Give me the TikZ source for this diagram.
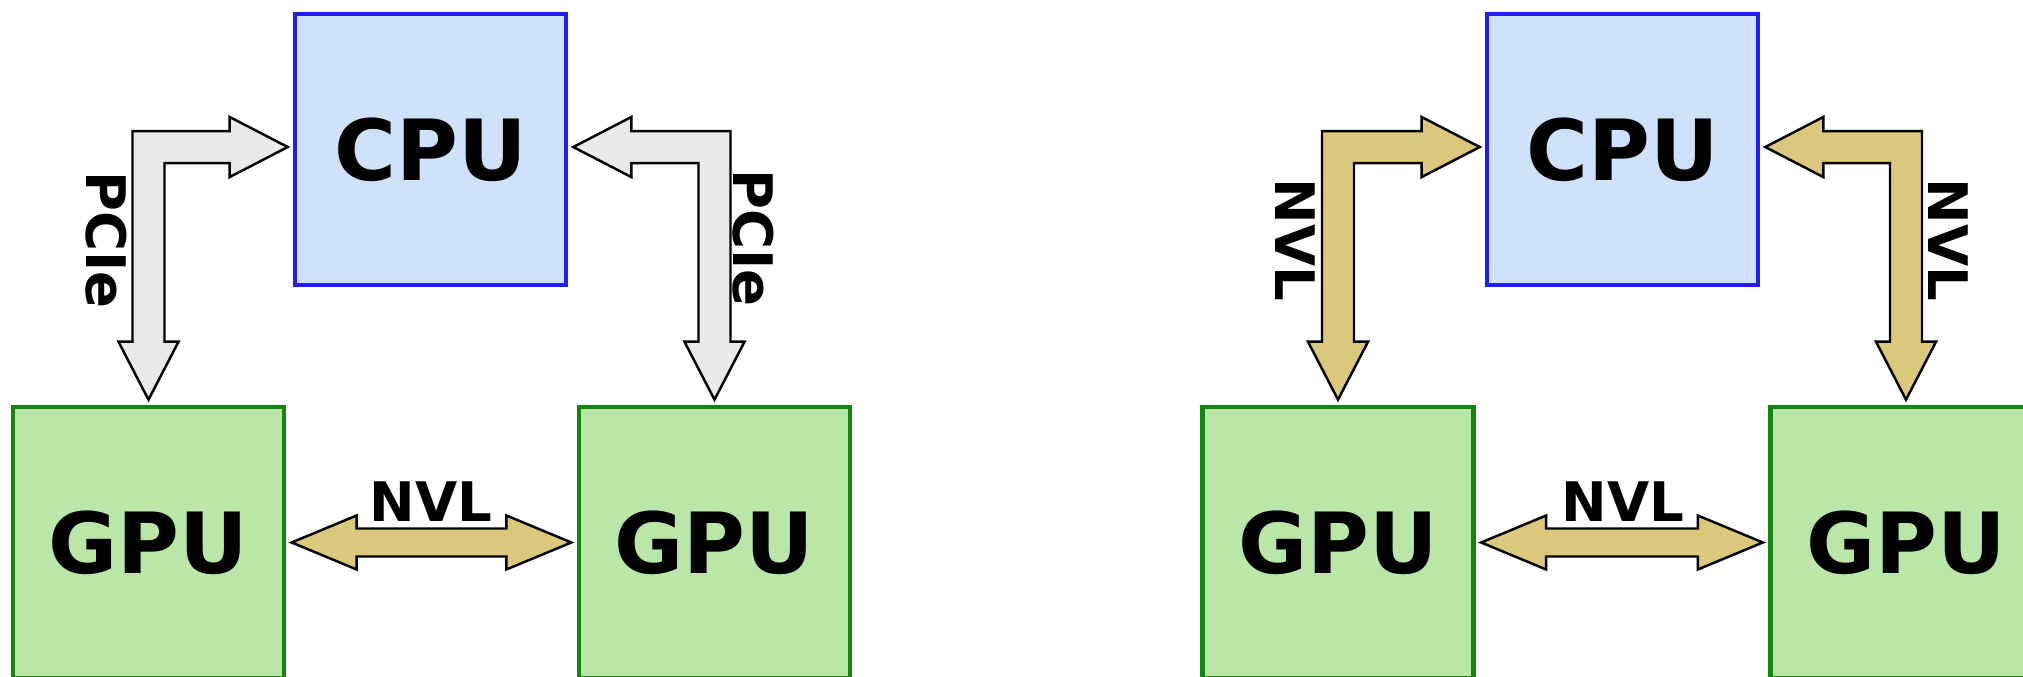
\documentclass[tikz,border=0pt]{standalone}
\usepackage{fontspec}
\setmainfont{DejaVu Sans}
\usetikzlibrary{calc}
\definecolor{cpufill}{RGB}{207,226,252}
\definecolor{cpuline}{RGB}{30,30,245}
\definecolor{gpufill}{RGB}{186,230,168}
\definecolor{gpuline}{RGB}{16,136,16}
\definecolor{pciefill}{RGB}{233,233,233}
\definecolor{nvlfill}{RGB}{220,200,125}
\def\aw{4.55pt}
\def\ah{8.54pt}
\def\al{16.5pt}
\def\ag{1.4pt}
\def\ay{0.7pt}
\def\bw{3.98pt}
\def\bh{7.68pt}
\def\bl{18.5pt}
\def\bg{1.5pt}
% #1 gpu node, #2 cpu anchor, #3 sign (1: cpu right of shaft), #4 fill
\newcommand\bentarrow[4]{%
  \draw[blk, fill=#4] let \p1=(#1.north), \p2=(#2) in
    ({\x1-(#3)*\aw},{\y2+\ay+\aw}) --
    ({\x2-(#3)*\ag-(#3)*\al},{\y2+\ay+\aw}) --
    ({\x2-(#3)*\ag-(#3)*\al},{\y2+\ay+\ah}) --
    ({\x2-(#3)*\ag},{\y2+\ay}) --
    ({\x2-(#3)*\ag-(#3)*\al},{\y2+\ay-\ah}) --
    ({\x2-(#3)*\ag-(#3)*\al},{\y2+\ay-\aw}) --
    ({\x1+(#3)*\aw},{\y2+\ay-\aw}) --
    ({\x1+(#3)*\aw},{\y1+\ag+\al}) --
    ({\x1+(#3)*\ah},{\y1+\ag+\al}) --
    ({\x1},{\y1+\ag}) --
    ({\x1-(#3)*\ah},{\y1+\ag+\al}) --
    ({\x1-(#3)*\aw},{\y1+\ag+\al}) -- cycle;}
% #1 left gpu, #2 right gpu
\newcommand\flatarrow[2]{%
  \draw[blk, fill=nvlfill] let \p1=(#1.east), \p2=(#2.west) in
    ({\x1+\bg},{\y1}) --
    ({\x1+\bg+\bl},{\y1+\bh}) --
    ({\x1+\bg+\bl},{\y1+\bw}) --
    ({\x2-\bg-\bl},{\y1+\bw}) --
    ({\x2-\bg-\bl},{\y1+\bh}) --
    ({\x2-\bg},{\y1}) --
    ({\x2-\bg-\bl},{\y1-\bh}) --
    ({\x2-\bg-\bl},{\y1-\bw}) --
    ({\x1+\bg+\bl},{\y1-\bw}) --
    ({\x1+\bg+\bl},{\y1-\bh}) -- cycle;}
\tikzset{
  unit/.style={draw, line width=1.3pt, minimum width=2.71cm, minimum height=2.71cm,
    inner sep=0pt, font=\fontsize{24}{28}\selectfont\bfseries},
  cpubox/.style={unit, fill=cpufill, draw=cpuline},
  gpubox/.style={unit, fill=gpufill, draw=gpuline},
  blk/.style={draw=black, line width=0.7pt, line join=miter},
  lbl/.style={inner sep=0pt, font=\fontsize{15.5}{18}\selectfont\bfseries},
  vlbl/.style={inner sep=0pt, rotate=-90, font=\fontsize{15.5}{18}\selectfont\bfseries},
}
\begin{document}
\begin{tikzpicture}[x=0.01cm, y=-0.01cm]
\useasboundingbox (0,0) rectangle (2023,677);
% left diagram
\node[cpubox] (cpuA) at (430.5,149.5) {CPU};
\node[gpubox] (gpuA1) at (148.5,542.5) {GPU};
\node[gpubox] (gpuA2) at (714.5,542.5) {GPU};
\bentarrow{gpuA1}{cpuA.west}{1}{pciefill}
\bentarrow{gpuA2}{cpuA.east}{-1}{pciefill}
\flatarrow{gpuA1}{gpuA2}
\node[vlbl] (pcieA1) at (106,240) {PCIe};
\node[vlbl] (pcieA2) at (753.5,238) {PCIe};
\node[lbl] (nvlA) at (431,502) {NVL};
% right diagram
\node[cpubox] (cpuB) at (1622.5,149.5) {CPU};
\node[gpubox] (gpuB1) at (1338,542.5) {GPU};
\node[gpubox] (gpuB2) at (1906,542.5) {GPU};
\bentarrow{gpuB1}{cpuB.west}{1}{nvlfill}
\bentarrow{gpuB2}{cpuB.east}{-1}{nvlfill}
\flatarrow{gpuB1}{gpuB2}
\node[vlbl] (nvlB1) at (1295,240) {NVL};
\node[vlbl] (nvlB2) at (1948.5,240) {NVL};
\node[lbl] (nvlB) at (1623,502) {NVL};
\end{tikzpicture}
\end{document}
